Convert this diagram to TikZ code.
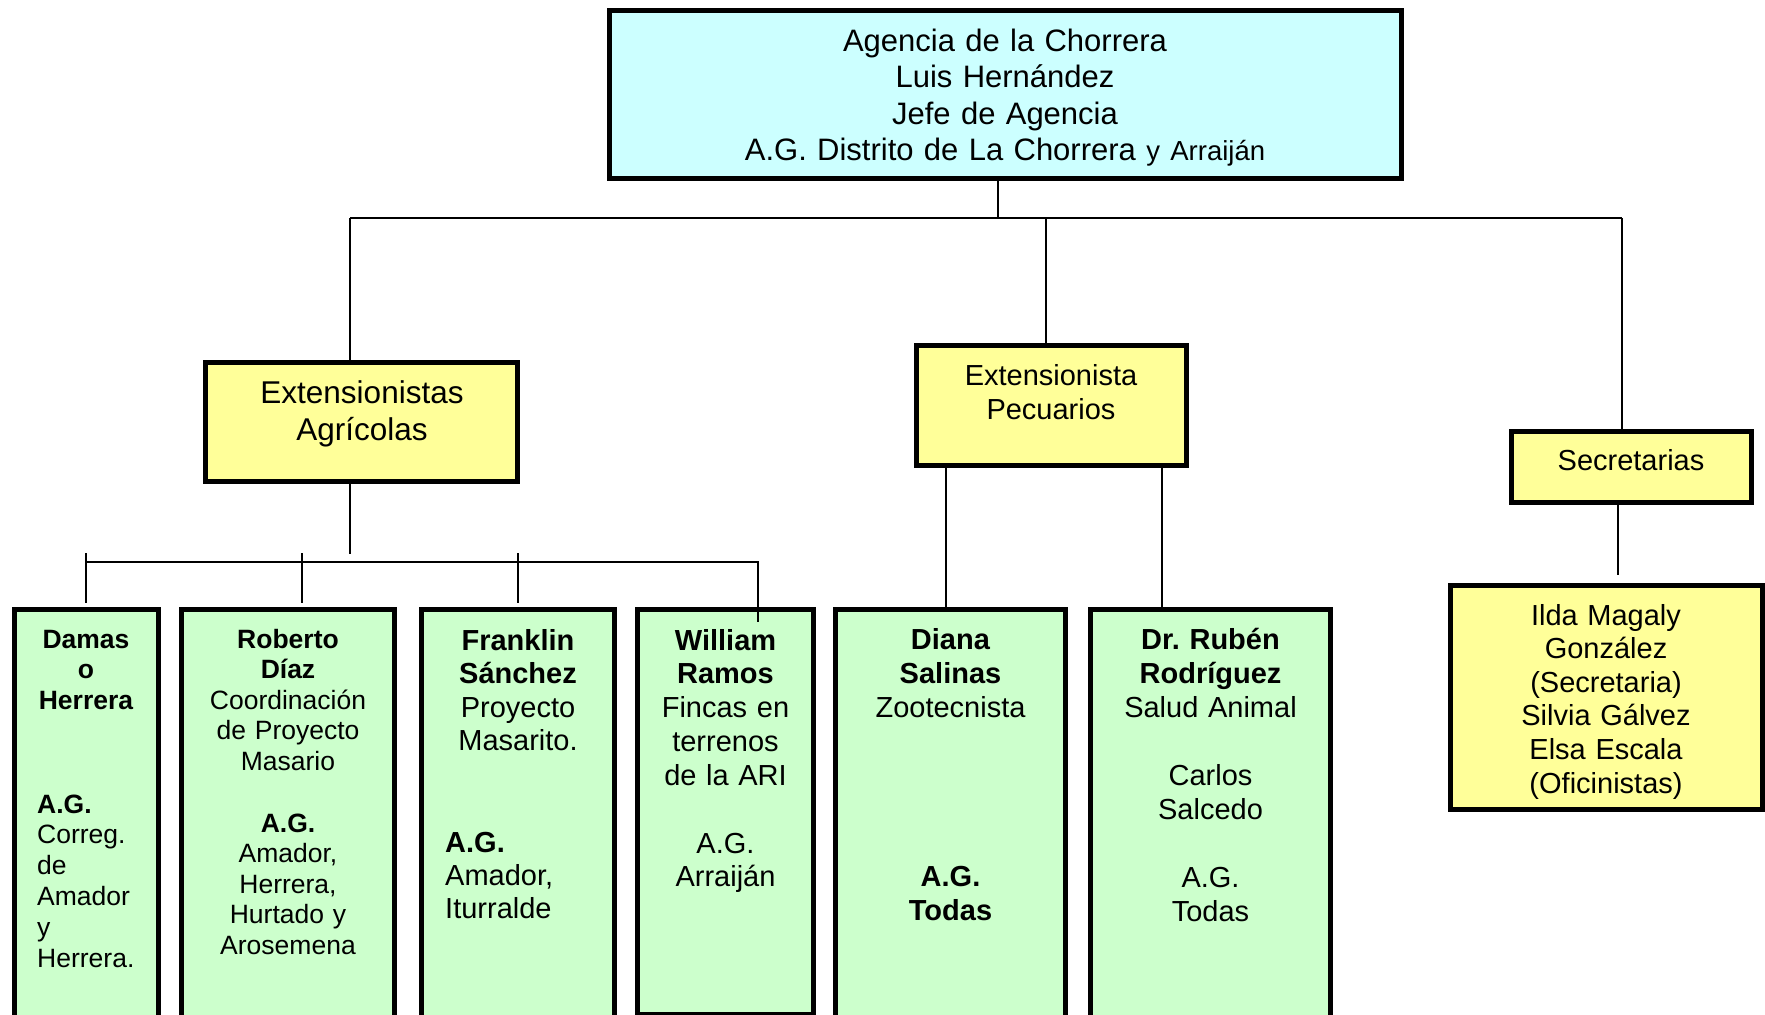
\documentclass[tikz,border=0pt]{standalone}
\usepackage{fontspec}
\setmainfont{Liberation Sans}
\frenchspacing
\definecolor{topcyan}{HTML}{CCFFFF}
\definecolor{boxyellow}{HTML}{FFFF99}
\definecolor{boxgreen}{HTML}{CCFFCC}
\tikzset{
  box/.style={draw=black, line width=5pt, inner sep=0pt, rectangle},
  conn/.style={draw=black, line width=1.5pt},
  txt/.style={inner sep=0pt, text width=320pt, align=center, anchor=base},
  txtl/.style={inner sep=0pt, text width=200pt, align=left, anchor=base west},
}
\begin{document}
\begin{tikzpicture}[x=1pt,y=-1pt]
\useasboundingbox (0,0) rectangle (1765,1015);
\fill[white] (0,0) rectangle (1765,1015);
\clip (0,0) rectangle (1765,1015);

% boxes
\node[box, fill=topcyan, minimum width=792pt, minimum height=168pt] (top) at (1005.5,94.5) {};
\node[box, fill=boxyellow, minimum width=312pt, minimum height=119pt] (agr) at (361.5,422) {};
\node[box, fill=boxyellow, minimum width=270pt, minimum height=120pt] (pec) at (1051.5,405.5) {};
\node[box, fill=boxyellow, minimum width=240pt, minimum height=71pt] (sec) at (1631.5,467) {};
\node[box, fill=boxyellow, minimum width=312pt, minimum height=224pt] (ilda) at (1606.5,697.5) {};
\node[box, fill=boxgreen, minimum width=144pt, minimum height=428pt] (damas) at (86.5,823.5) {};
\node[box, fill=boxgreen, minimum width=213pt, minimum height=428pt] (roberto) at (288,823.5) {};
\node[box, fill=boxgreen, minimum width=193pt, minimum height=428pt] (franklin) at (518,823.5) {};
\node[box, fill=boxgreen, minimum width=176pt, minimum height=405pt] (william) at (725.5,812) {};
\node[box, fill=boxgreen, minimum width=230pt, minimum height=428pt] (diana) at (950.5,823.5) {};
\node[box, fill=boxgreen, minimum width=240pt, minimum height=428pt] (ruben) at (1210.5,823.5) {};

% connector points
\coordinate (j0) at (998,218);
\coordinate (hL) at (350,218);
\coordinate (hR) at (1622,218);
\coordinate (jp) at (1046,218);
\coordinate (aT) at (350,554);
\coordinate (bL) at (86,562);
\coordinate (bR) at (758,562);
\coordinate (wT) at (758,622);
\coordinate (t1a) at (86,553);   \coordinate (t1b) at (86,603);
\coordinate (t2a) at (302,553);  \coordinate (t2b) at (302,603);
\coordinate (t3a) at (518,553);  \coordinate (t3b) at (518,603);
\coordinate (p1) at (946,540);
\coordinate (p2) at (1162,540);
\coordinate (s1) at (1618,575);

% connectors
\draw[conn] (top.south -| j0) -- (j0);
\draw[conn] (hL) -- (hR);
\draw[conn] (hL) -- (agr.north -| hL);
\draw[conn] (jp) -- (pec.north -| jp);
\draw[conn] (hR) -- (sec.north -| hR);
\draw[conn] (agr.south -| aT) -- (aT);
\draw[conn] (bL) -- (bR) -- (wT);
\draw[conn] (t1a) -- (t1b);
\draw[conn] (t2a) -- (t2b);
\draw[conn] (t3a) -- (t3b);
\draw[conn] (pec.south -| p1) -- (diana.north -| p1);
\draw[conn] (pec.south -| p2) -- (ruben.north -| p2);
\draw[conn] (sec.south -| s1) -- (s1);

% texts
\node[txt, text width=760pt, font=\fontsize{31}{36.5}\selectfont] (ttop) at (1005,51)
  {Agencia de la Chorrera\\Luis Hernández\\Jefe de Agencia\\A.G. Distrito de La Chorrera {\fontsize{27.5}{36.5}\selectfont y Arraiján}};
\node[txt, font=\fontsize{31.5}{37}\selectfont] (tagr) at (362,403)
  {Extensionistas\\Agrícolas};
\node[txt, font=\fontsize{29}{34}\selectfont] (tpec) at (1051,385)
  {Extensionista\\Pecuarios};
\node[txt, font=\fontsize{29}{34}\selectfont] (tsec) at (1631,470)
  {Secretarias};
\node[txt, font=\fontsize{29}{33.6}\selectfont] (tilda) at (1606,625)
  {Ilda Magaly\\González\\(Secretaria)\\Silvia Gálvez\\Elsa Escala\\(Oficinistas)};

\node[txt, font=\fontsize{26.5}{30.5}\selectfont\bfseries] (tdamas) at (86,648)
  {Damas\\o\\Herrera};
\node[txtl, font=\fontsize{26.5}{30.8}\selectfont] (tdamasag) at (37,813)
  {\textbf{A.G.}\\Correg.\\de\\Amador\\y\\Herrera.};

\node[txt, font=\fontsize{26.5}{30.6}\selectfont] (troberto) at (288,648)
  {\textbf{Roberto}\\\textbf{Díaz}\\Coordinación\\de Proyecto\\Masario\\[31pt]\textbf{A.G.}\\Amador,\\Herrera,\\Hurtado y\\Arosemena};

\node[txt, font=\fontsize{29}{33.6}\selectfont] (tfranklin) at (518,650)
  {\textbf{Franklin}\\\textbf{Sánchez}\\Proyecto\\Masarito.};
\node[txtl, font=\fontsize{29}{33}\selectfont] (tfranklinag) at (445,852)
  {\textbf{A.G.}\\Amador,\\Iturralde};

\node[txt, font=\fontsize{29}{33.8}\selectfont] (twilliam) at (725.5,650)
  {\textbf{William}\\\textbf{Ramos}\\Fincas en\\terrenos\\de la ARI\\[34pt]A.G.\\Arraiján};

\node[txt, font=\fontsize{29}{34}\selectfont] (tdiana) at (950.5,649)
  {\textbf{Diana}\\\textbf{Salinas}\\Zootecnista\\[135pt]\textbf{A.G.}\\\textbf{Todas}};

\node[txt, font=\fontsize{29}{34}\selectfont] (truben) at (1210.5,649)
  {\textbf{Dr. Rubén}\\\textbf{Rodríguez}\\Salud Animal\\[34pt]Carlos\\Salcedo\\[34pt]A.G.\\Todas};
\end{tikzpicture}
\end{document}
